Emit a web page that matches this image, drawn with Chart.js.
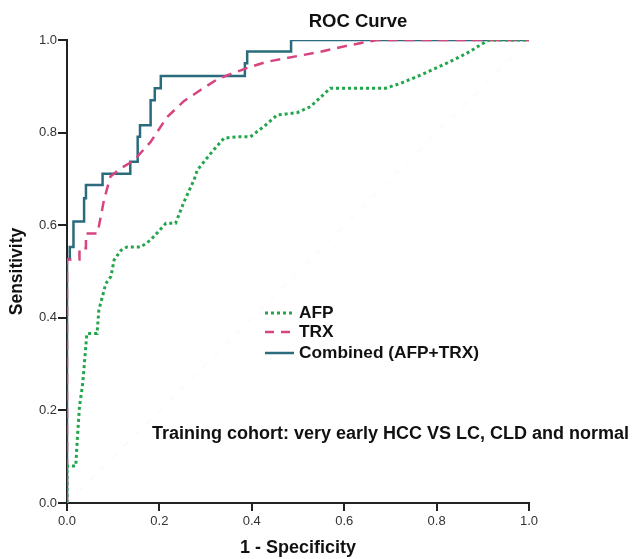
<!DOCTYPE html>
<html>
<head>
<meta charset="utf-8">
<script src="https://cdn.jsdelivr.net/npm/chart.js@4.4.1/dist/chart.umd.min.js"></script>
<style>
  html,body{margin:0;padding:0;background:#fff;}
  #wrap{width:632px;height:559px;position:relative;}
</style>
</head>
<body>
<div id="wrap"><canvas id="roc" width="632" height="559"></canvas></div>
<script>
// ROC curves (1 - specificity, sensitivity)
const combinedX=[0,0,0.006,0.006,0.014,0.014,0.037,0.037,0.041,0.041,0.077,0.077,0.137,0.137,0.153,0.153,0.158,0.158,0.181,0.181,0.19,0.19,0.203,0.203,0.385,0.385,0.39,0.39,0.485,0.485,1];
const combinedY=[0,0.527,0.527,0.553,0.553,0.608,0.608,0.658,0.658,0.687,0.687,0.711,0.711,0.737,0.737,0.791,0.791,0.816,0.816,0.87,0.87,0.896,0.896,0.922,0.922,0.95,0.95,0.975,0.975,1,1];

const trxX=[0,0,0.027,0.027,0.041,0.041,0.066,0.08,0.094,0.115,0.145,0.181,0.217,0.253,0.289,0.325,0.361,0.397,0.433,0.469,0.541,0.613,0.67,1];
const trxY=[0,0.526,0.526,0.55,0.55,0.582,0.582,0.654,0.705,0.722,0.74,0.78,0.834,0.868,0.892,0.915,0.929,0.942,0.953,0.96,0.973,0.989,1,1];

const afpX=[0,0,0.019,0.022,0.027,0.034,0.043,0.065,0.069,0.073,0.084,0.095,0.102,0.117,0.13,0.16,0.181,0.214,0.235,0.253,0.275,0.282,0.311,0.34,0.369,0.397,0.426,0.455,0.498,0.527,0.57,0.69,0.721,0.765,0.822,0.865,0.909,0.915,1];
const afpY=[0,0.08,0.08,0.133,0.208,0.258,0.366,0.366,0.417,0.432,0.474,0.489,0.525,0.546,0.553,0.553,0.568,0.604,0.604,0.65,0.698,0.719,0.755,0.788,0.791,0.791,0.813,0.838,0.843,0.856,0.896,0.896,0.906,0.924,0.95,0.971,0.998,1,1];

const refX=[0,1];
const refY=[0,1];

const tickValues=[0,0.2,0.4,0.6,0.8,1.0];
const seriesNames=['AFP','TRX','Combined (AFP+TRX)'];
const chartTitle='ROC Curve';
const note='Training cohort: very early HCC VS LC, CLD and normal';

const GREEN='#22a64c', PINK='#d8447f', TEAL='#2a6b7e';
const FONT='"Liberation Sans", Arial, sans-serif';

const toPts=(xs,ys)=>xs.map((x,i)=>({x:x,y:ys[i]}));

const legendItems=[
  {label:seriesNames[0],color:GREEN,dash:[3,3],width:3},
  {label:seriesNames[1],color:PINK,dash:[9,7],width:2.5},
  {label:seriesNames[2],color:TEAL,dash:[],width:2.5}
];

// legend, title and note sit inside / above the plot, drawn by hand
const overlay={
  id:'overlay',
  afterDraw(chart){
    const ctx=chart.ctx;
    ctx.save();
    ctx.fillStyle='#111';
    ctx.textBaseline='middle';
    ctx.font='bold 18.5px '+FONT;
    ctx.textAlign='center';
    ctx.fillText(chartTitle,358,22);

    ctx.textAlign='left';
    ctx.font='bold 17.3px '+FONT;
    legendItems.forEach((it,i)=>{
      const y=[313,332,353][i];
      ctx.beginPath();
      ctx.strokeStyle=it.color;
      ctx.lineWidth=it.width;
      ctx.setLineDash(it.dash);
      ctx.moveTo(265,y);ctx.lineTo(294,y);
      ctx.stroke();
      ctx.setLineDash([]);
      ctx.fillText(it.label,299,y);
    });

    ctx.font='bold 18px '+FONT;
    ctx.fillText(note,152,434);
    ctx.restore();
  }
};

new Chart(document.getElementById('roc'),{
  type:'scatter',
  data:{
    datasets:[
      {label:'ref',data:toPts(refX,refY),showLine:true,borderColor:'rgba(225,190,205,0.2)',borderWidth:1,pointRadius:0,borderDash:[6,10]},
      {label:seriesNames[0],data:toPts(afpX,afpY),showLine:true,borderColor:GREEN,borderWidth:3,borderDash:[3,3],pointRadius:0,tension:0},
      {label:seriesNames[1],data:toPts(trxX,trxY),showLine:true,borderColor:PINK,borderWidth:2.5,borderDash:[10,7],pointRadius:0,tension:0},
      {label:seriesNames[2],data:toPts(combinedX,combinedY),showLine:true,borderColor:TEAL,borderWidth:2.5,pointRadius:0,tension:0}
    ]
  },
  options:{
    responsive:false,
    animation:false,
    layout:{padding:{top:40,right:103,left:0,bottom:0}},
    plugins:{legend:{display:false},title:{display:false},tooltip:{enabled:false}},
    scales:{
      x:{
        type:'linear',min:0,max:1,
        afterBuildTicks:s=>{s.ticks=tickValues.map(v=>({value:v}));},
        afterFit:s=>{s.height=56;},
        grid:{drawOnChartArea:false,tickLength:8,color:'#222',lineWidth:2},
        border:{display:true,color:'#222',width:2},
        ticks:{color:'#333',font:{size:13,family:FONT},padding:3,callback:v=>Number(v).toFixed(1),maxRotation:0},
        title:{display:true,text:'1 - Specificity',color:'#111',font:{size:18,weight:'bold',family:FONT},padding:{top:0,bottom:0}}
      },
      y:{
        type:'linear',min:0,max:1,
        afterBuildTicks:s=>{s.ticks=tickValues.map(v=>({value:v}));},
        afterFit:s=>{s.width=67;},
        grid:{drawOnChartArea:false,tickLength:9,color:'#222',lineWidth:2},
        border:{display:true,color:'#222',width:2},
        ticks:{color:'#333',font:{size:13,family:FONT},padding:1,callback:v=>Number(v).toFixed(1)},
        title:{display:true,text:'Sensitivity',color:'#111',font:{size:17.5,weight:'bold',family:FONT},padding:{top:7,bottom:0}}
      }
    }
  },
  plugins:[overlay]
});
</script>
</body>
</html>
